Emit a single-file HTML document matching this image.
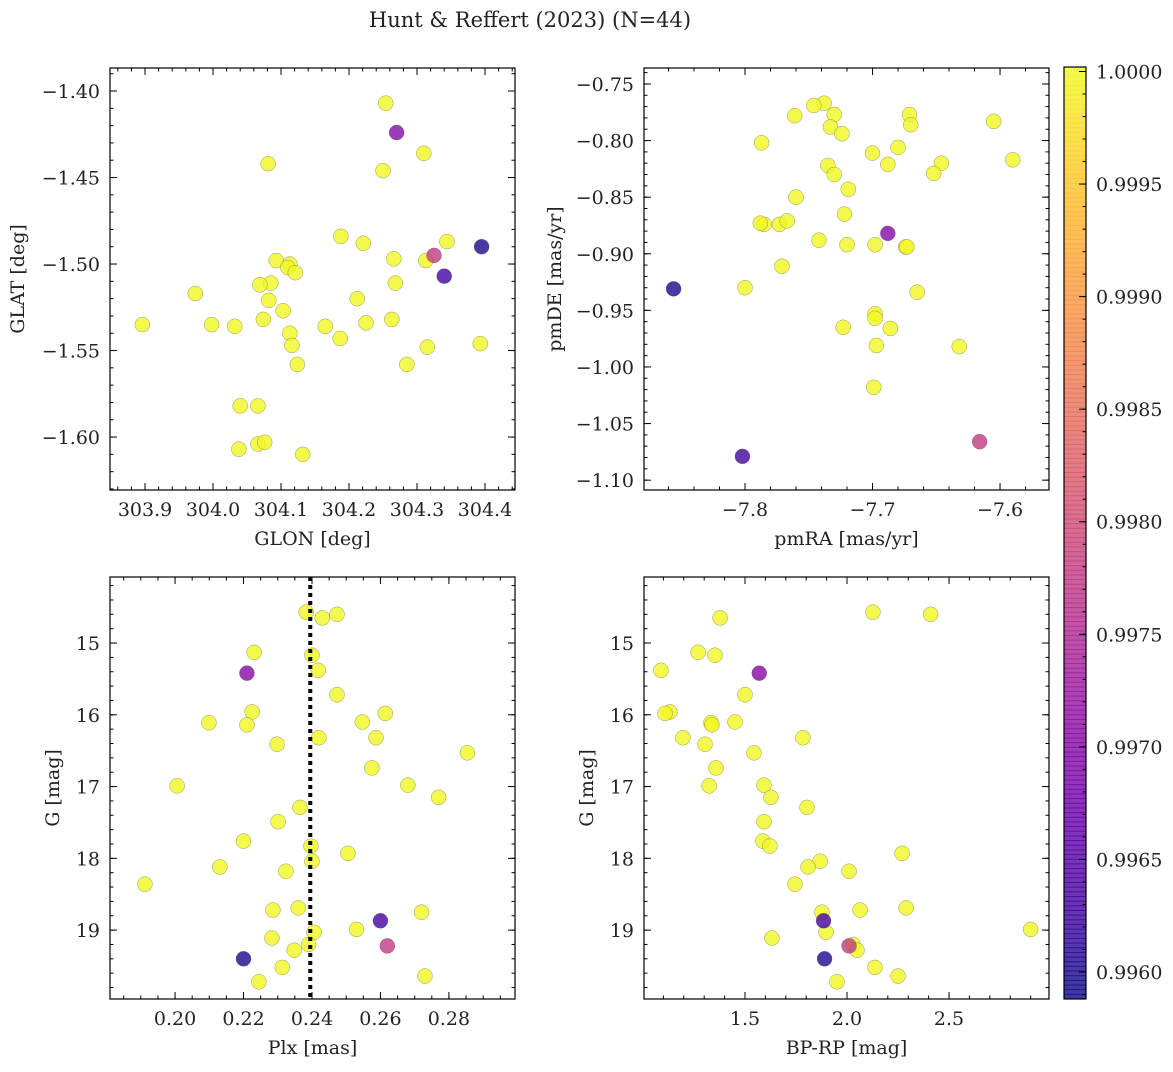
<!DOCTYPE html>
<html><head><meta charset="utf-8">
<style>
html,body{margin:0;padding:0;background:#fff;}
svg text{font-family:"DejaVu Serif","Liberation Serif",serif;fill:#222;}
</style></head>
<body>
<svg id="fig" width="1173" height="1067" viewBox="0 0 1173 1067" xmlns="http://www.w3.org/2000/svg">
<text x="530" y="27" text-anchor="middle" font-size="21">Hunt &amp; Reffert (2023) (N=44)</text>
</svg>
<script>
// ---- data (44 members) ----
const glon = [304.395,304.340,304.270,304.325,
304.254,304.081,304.310,304.250,304.188,304.221,304.344,304.266,304.313,304.093,304.113,304.110,304.121,304.085,304.069,304.268,303.974,304.212,304.082,304.103,303.896,303.998,304.032,304.074,304.263,304.225,304.165,304.113,304.116,304.187,304.315,304.393,304.124,304.285,304.040,304.066,304.038,304.066,304.076,304.132];
const glat = [-1.490,-1.507,-1.424,-1.495,
-1.407,-1.442,-1.436,-1.446,-1.484,-1.488,-1.487,-1.497,-1.498,-1.498,-1.500,-1.502,-1.505,-1.511,-1.512,-1.511,-1.517,-1.520,-1.521,-1.527,-1.535,-1.535,-1.536,-1.532,-1.532,-1.534,-1.536,-1.540,-1.547,-1.543,-1.548,-1.546,-1.558,-1.558,-1.582,-1.582,-1.607,-1.604,-1.603,-1.610];
const pmra = [-7.856,-7.802,-7.688,-7.616,
-7.738,-7.746,-7.761,-7.730,-7.671,-7.670,-7.605,-7.733,-7.724,-7.787,-7.680,-7.646,-7.590,-7.700,-7.688,-7.735,-7.730,-7.652,-7.719,-7.760,-7.722,-7.773,-7.785,-7.788,-7.767,-7.742,-7.698,-7.720,-7.674,-7.673,-7.771,-7.800,-7.665,-7.723,-7.686,-7.697,-7.632,-7.698,-7.698,-7.699];
const pmde = [-0.931,-1.079,-0.882,-1.066,
-0.767,-0.769,-0.778,-0.777,-0.777,-0.786,-0.783,-0.788,-0.794,-0.802,-0.806,-0.820,-0.817,-0.811,-0.821,-0.822,-0.830,-0.829,-0.843,-0.850,-0.865,-0.874,-0.874,-0.873,-0.871,-0.888,-0.892,-0.892,-0.894,-0.894,-0.911,-0.930,-0.934,-0.965,-0.966,-0.981,-0.982,-0.953,-0.957,-1.018];
const plx = [0.220,0.260,0.221,0.262,
0.2383,0.2473,0.2430,0.2231,0.2400,0.2418,0.2473,0.2099,0.2225,0.2210,0.2614,0.2547,0.2587,0.2420,0.2298,0.2854,0.2575,0.2006,0.2680,0.2770,0.2365,0.2301,0.2200,0.2397,0.2505,0.2400,0.2131,0.2324,0.1912,0.2286,0.2360,0.2720,0.2530,0.2406,0.2283,0.2390,
0.2348,0.2313,0.2730,0.2245];
const gmag = [19.40,18.87,15.42,19.22,
14.57,14.60,14.65,15.13,15.17,15.38,15.72,16.11,15.96,16.14,15.98,16.10,16.32,16.32,16.41,16.53,16.74,16.99,16.98,17.15,17.29,17.49,17.76,17.83,17.93,18.04,18.12,18.18,18.36,18.72,18.69,18.75,18.99,19.03,19.11,19.20,
19.28,19.52,19.64,19.72];
const bprp = [1.890,1.885,1.570,2.010,
2.127,2.410,1.378,1.270,1.353,1.088,1.500,1.333,1.132,1.338,1.108,1.451,1.196,1.784,1.304,1.544,1.358,1.324,1.593,1.627,1.804,1.593,1.588,1.622,2.270,1.868,1.809,2.010,1.745,2.064,2.290,1.877,2.900,1.897,1.632,2.030,
2.049,2.137,2.250,1.951];
const prob = [0.99598,0.99632,0.99700,0.99778,
1,1,1,1,1,1,1,1,1,1,1,1,1,1,1,1,1,1,1,1,1,1,1,1,1,1,1,1,1,1,1,1,1,1,1,1,1,1,1,1,1,1,1,1];
const cbTicks = [0.9960,0.9965,0.9970,0.9975,0.9980,0.9985,0.9990,0.9995,1.0000];
const plxRef = [0.2395];

const NS = "http://www.w3.org/2000/svg";
const svg = document.getElementById('fig');
function mk(tag, attrs, parent){const e=document.createElementNS(NS,tag);for(const k in attrs)e.setAttribute(k,attrs[k]);(parent||svg).appendChild(e);return e;}
const vmin=0.99588, vmax=1.00002;
const stops=["#0d0887","#41049d","#6a00a8","#8f0da4","#b12a90","#cc4778","#e16462","#f2844b","#fca636","#fcce25","#f0f921"];
function hex(h){return [parseInt(h.substr(1,2),16),parseInt(h.substr(3,2),16),parseInt(h.substr(5,2),16)];}
function cmap(t){t=Math.max(0,Math.min(1,t));const f=t*10,i=Math.min(9,Math.floor(f)),r=f-i;const a=hex(stops[i]),b=hex(stops[i+1]);return "rgb("+a.map((v,k)=>Math.round(v+(b[k]-v)*r)).join(",")+")";}
function colorOf(p){return cmap((p-vmin)/(vmax-vmin));}
const FS=19;

function panel(cfg){
  const {name,x0,y0,x1,y1,xmin,xmax,ymin,ymax,xs,ys,xt,yt,xminor,yminor,xlab,ylab,xfmt,yfmt,invertY}=cfg;
  const g=mk('g',{});
  
  
  const sx=v=>x0+(v-xmin)/(xmax-xmin)*(x1-x0);
  const sy=v=>invertY? y0+(v-ymin)/(ymax-ymin)*(y1-y0) : y1-(v-ymin)/(ymax-ymin)*(y1-y0);
  const clip='clip-'+name;
  const cp=mk('clipPath',{id:clip},g);mk('rect',{x:x0,y:y0,width:x1-x0,height:y1-y0},cp);
  const pts=mk('g',{'clip-path':'url(#'+clip+')'},g);
  
  
  const idx=[...Array(xs.length).keys()].sort((a,b)=>prob[b]-prob[a]);
  for(const i of idx){
    const c=mk('circle',{cx:sx(xs[i]),cy:sy(ys[i]),r:7.5,fill:colorOf(prob[i]),'fill-opacity':0.8,stroke:'#555','stroke-opacity':0.6,'stroke-width':0.5},pts);
    
    
  }
  if(cfg.extra) cfg.extra(pts,sx,sy);
  const fr=mk('rect',{x:x0,y:y0,width:x1-x0,height:y1-y0,fill:'none',stroke:'#000','stroke-width':1.2},g);
  
  
  const tk=mk('g',{stroke:'#000','stroke-width':1},g);
  const eps=1e-9;
  for(let v=Math.ceil(xmin/xminor-eps)*xminor; v<=xmax+eps; v+=xminor){const X=sx(v);mk('line',{x1:X,y1:y1,x2:X,y2:y1-3.5},tk);mk('line',{x1:X,y1:y0,x2:X,y2:y0+3.5},tk);}
  for(let v=Math.ceil(ymin/yminor-eps)*yminor; v<=ymax+eps; v+=yminor){const Y=sy(v);mk('line',{x1:x0,y1:Y,x2:x0+3.5,y2:Y},tk);mk('line',{x1:x1,y1:Y,x2:x1-3.5,y2:Y},tk);}
  for(const v of xt){const X=sx(v);mk('line',{x1:X,y1:y1,x2:X,y2:y1-7},tk);mk('line',{x1:X,y1:y0,x2:X,y2:y0+7},tk);
    const t=mk('text',{x:X,y:y1+26,'text-anchor':'middle','font-size':FS},g);t.textContent=xfmt(v);
    
    }
  for(const v of yt){const Y=sy(v);mk('line',{x1:x0,y1:Y,x2:x0+7,y2:Y},tk);mk('line',{x1:x1,y1:Y,x2:x1-7,y2:Y},tk);
    const t=mk('text',{x:x0-10,y:Y+7,'text-anchor':'end','font-size':FS},g);t.textContent=yfmt(v);
    
    }
  const xl=mk('text',{x:(x0+x1)/2,y:y1+55,'text-anchor':'middle','font-size':FS},g);xl.textContent=xlab;
  
  
  const yx=cfg.ylx, yy=(y0+y1)/2;
  const yl=mk('text',{x:yx,y:yy,'text-anchor':'middle','font-size':FS,transform:'rotate(-90 '+yx+' '+yy+')'},g);yl.textContent=ylab;
  
  
}
panel({name:'glon-glat-panel',x0:110,y0:68,x1:515,y1:490,xmin:303.8485,xmax:304.4441,ymin:-1.6306,ymax:-1.3867,xs:glon,ys:glat,
  xt:[303.9,304.0,304.1,304.2,304.3,304.4],yt:[-1.40,-1.45,-1.50,-1.55,-1.60],xminor:0.02,yminor:0.01,
  xlab:'GLON [deg]',ylab:'GLAT [deg]',xfmt:v=>v.toFixed(1),yfmt:v=>'\u2212'+Math.abs(v).toFixed(2),ylx:24});
panel({name:'pm-panel',x0:644,y0:68,x1:1049,y1:490,xmin:-7.8792,xmax:-7.5616,ymin:-1.1087,ymax:-0.7359,xs:pmra,ys:pmde,
  xt:[-7.8,-7.7,-7.6],yt:[-0.75,-0.80,-0.85,-0.90,-0.95,-1.00,-1.05,-1.10],xminor:0.02,yminor:0.01,
  xlab:'pmRA [mas/yr]',ylab:'pmDE [mas/yr]',xfmt:v=>'\u2212'+Math.abs(v).toFixed(1),yfmt:v=>'\u2212'+Math.abs(v).toFixed(2),ylx:561});
panel({name:'plx-g-panel',x0:110,y0:577,x1:515,y1:999,xmin:0.1810,xmax:0.2993,ymin:14.08,ymax:19.96,xs:plx,ys:gmag,invertY:true,
  xt:[0.20,0.22,0.24,0.26,0.28],yt:[15,16,17,18,19],xminor:0.005,yminor:0.2,
  xlab:'Plx [mas]',ylab:'G [mag]',xfmt:v=>v.toFixed(2),yfmt:v=>String(v),ylx:59,
  extra:(g,sx,sy)=>{for(const p of plxRef){const l=mk('line',{x1:sx(p),y1:577,x2:sx(p),y2:999,stroke:'#000','stroke-width':4,'stroke-dasharray':'4 4'},g);
    
    }}});
panel({name:'cmd-panel',x0:644,y0:577,x1:1049,y1:999,xmin:1.005,xmax:2.990,ymin:14.08,ymax:19.96,xs:bprp,ys:gmag,invertY:true,
  xt:[1.5,2.0,2.5],yt:[15,16,17,18,19],xminor:0.1,yminor:0.2,
  xlab:'BP-RP [mag]',ylab:'G [mag]',xfmt:v=>v.toFixed(1),yfmt:v=>String(v),ylx:593});

// colorbar
const cb=mk('g',{});


const cx0=1064,cx1=1086,cy0=67,cy1=999;
const cys=v=>cy1-(v-vmin)/(vmax-vmin)*(cy1-cy0);
for(let i=0;i<200;i++){const t0=i/200;mk('rect',{x:cx0,y:cy1-(i+1)/200*(cy1-cy0)-0.5,width:cx1-cx0,height:(cy1-cy0)/200+1,fill:cmap(t0+0.0025),'fill-opacity':0.8},cb);}
mk('rect',{x:cx0,y:cy0,width:cx1-cx0,height:cy1-cy0,fill:'none',stroke:'#000','stroke-width':1.2},cb);
for(let v=0.9959;v<=vmax+1e-9;v+=0.0001){const Y=cys(v);mk('line',{x1:cx1,y1:Y,x2:cx1-3.5,y2:Y,stroke:'#000'},cb);}
for(const v of cbTicks){const Y=cys(v);mk('line',{x1:cx1,y1:Y,x2:cx1-7,y2:Y,stroke:'#000'},cb);
  const t=mk('text',{x:cx1+10,y:Y+7,'font-size':FS},cb);t.textContent=v.toFixed(4);
  
  }
</script>
</body></html>
